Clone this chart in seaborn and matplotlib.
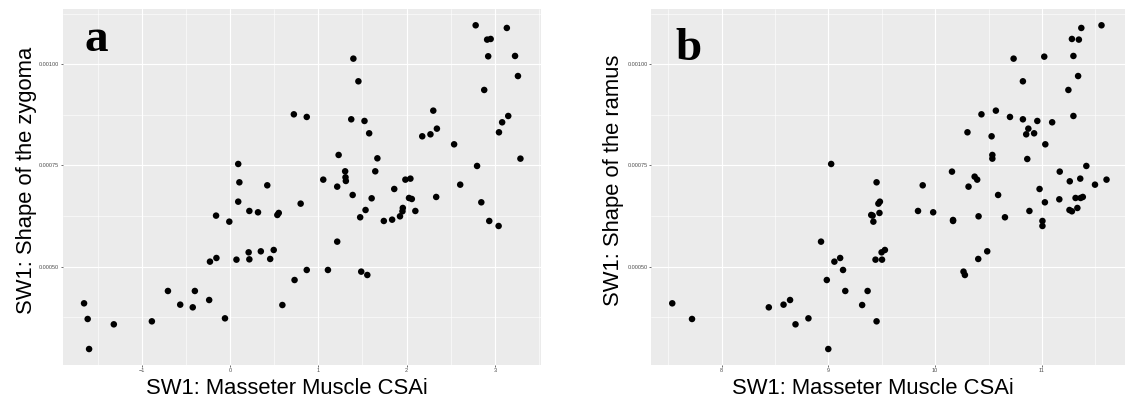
import pandas as pd
import seaborn as sns
import matplotlib.pyplot as plt
from matplotlib.ticker import MultipleLocator, FormatStrFormatter

# panel a: masseter CSAi vs zygoma shape
csa_a = [-1.653, -1.612, -1.596, -1.316, -0.885, -0.703, -0.564, -0.422,
         -0.398, -0.236, -0.227, -0.158, -0.154, -0.057, -0.008, 0.073,
         0.093, 0.106, 0.093, 0.219, 0.211, 0.219, 0.317, 0.349, 0.422,
         0.455, 0.495, 0.536, 0.552, 0.593, 0.723, 0.731, 0.800, 0.869,
         0.869, 1.056, 1.109, 1.214, 1.214, 1.230, 1.304, 1.308, 1.312,
         1.373, 1.389, 1.397, 1.454, 1.474, 1.486, 1.523, 1.535, 1.555,
         1.576, 1.604, 1.645, 1.669, 1.742, 1.836, 1.860, 1.925, 1.953,
         1.957, 1.986, 2.027, 2.043, 2.059, 2.099, 2.177, 2.270, 2.302,
         2.335, 2.343, 2.538, 2.607, 2.782, 2.798, 2.846, 2.879, 2.912,
         2.924, 2.936, 2.952, 3.042, 3.046, 3.082, 3.135, 3.151, 3.228,
         3.261, 3.289]
zygoma = [0.0004094, 0.0003707, 0.0002965, 0.0003575, 0.0003649, 0.0004399,
          0.0004061, 0.0003995, 0.0004399, 0.0004176, 0.0005124, 0.0006261,
          0.0005214, 0.0003723, 0.0006112, 0.0005173, 0.0007537, 0.0007084,
          0.0006606, 0.0006376, 0.0005354, 0.0005181, 0.0006343, 0.0005379,
          0.0007010, 0.0005190, 0.0005412, 0.0006277, 0.0006327, 0.0004052,
          0.0008764, 0.0004670, 0.0006557, 0.0008699, 0.0004918, 0.0007150,
          0.0004918, 0.0006977, 0.0005618, 0.0007760, 0.0007356, 0.0007208,
          0.0007117, 0.0008641, 0.0006771, 0.0010140, 0.0009580, 0.0006220,
          0.0004877, 0.0008600, 0.0006400, 0.0004794, 0.0008295, 0.0006689,
          0.0007356, 0.0007677, 0.0006129, 0.0006161, 0.0006919, 0.0006244,
          0.0006368, 0.0006450, 0.0007150, 0.0006697, 0.0007175, 0.0006672,
          0.0006376, 0.0008221, 0.0008270, 0.0008855, 0.0006722, 0.0008410,
          0.0008023, 0.0007026, 0.0010964, 0.0007488, 0.0006590, 0.0009366,
          0.0010610, 0.0010198, 0.0006129, 0.0010626, 0.0006005, 0.0008320,
          0.0008567, 0.0010898, 0.0008723, 0.0010206, 0.0009710, 0.0007669]

# panel b: masseter CSAi vs ramus shape
csa_b = [7.538, 7.723, 8.442, 8.580, 8.641, 8.692, 8.813, 8.931, 8.985,
         8.999, 9.026, 9.056, 9.110, 9.137, 9.158, 9.316, 9.367, 9.401,
         9.414, 9.421, 9.441, 9.451, 9.451, 9.468, 9.482, 9.478, 9.498,
         9.502, 9.529, 9.839, 9.883, 9.981, 10.157, 10.167, 10.167, 10.265,
         10.278, 10.302, 10.312, 10.369, 10.393, 10.403, 10.406, 10.433,
         10.487, 10.528, 10.535, 10.535, 10.568, 10.589, 10.653, 10.700,
         10.734, 10.821, 10.821, 10.852, 10.862, 10.872, 10.882, 10.926,
         10.956, 10.977, 11.004, 11.004, 11.021, 11.027, 11.031, 11.095,
         11.162, 11.166, 11.247, 11.257, 11.260, 11.280, 11.280, 11.294,
         11.294, 11.314, 11.331, 11.345, 11.338, 11.358, 11.361, 11.368,
         11.382, 11.415, 11.496, 11.557, 11.604]
ramus = [0.0004094, 0.0003707, 0.0003995, 0.0004061, 0.0004176, 0.0003575,
         0.0003723, 0.0005618, 0.0004670, 0.0002965, 0.0007537, 0.0005124,
         0.0005214, 0.0004918, 0.0004399, 0.0004052, 0.0004399, 0.0006277,
         0.0006261, 0.0006112, 0.0005173, 0.0007084, 0.0003649, 0.0006557,
         0.0006606, 0.0006327, 0.0005354, 0.0005173, 0.0005412, 0.0006376,
         0.0007010, 0.0006343, 0.0007348, 0.0006153, 0.0006129, 0.0004877,
         0.0004794, 0.0008320, 0.0006977, 0.0007224, 0.0007150, 0.0005190,
         0.0006244, 0.0008764, 0.0005379, 0.0008221, 0.0007760, 0.0007669,
         0.0008855, 0.0006771, 0.0006220, 0.0008699, 0.0010140, 0.0009580,
         0.0008641, 0.0008270, 0.0007660, 0.0008410, 0.0006376, 0.0008295,
         0.0008600, 0.0006919, 0.0006129, 0.0006005, 0.0010189, 0.0006590,
         0.0008023, 0.0008567, 0.0006664, 0.0007348, 0.0009366, 0.0006400,
         0.0007109, 0.0010626, 0.0006368, 0.0008723, 0.0010206, 0.0006697,
         0.0006450, 0.0010610, 0.0009710, 0.0007175, 0.0006697, 0.0010898,
         0.0006722, 0.0007488, 0.0007026, 0.0010964, 0.0007150]

xlabel = 'SW1: Masseter Muscle CSAi'
sns.set_style('darkgrid', {'axes.facecolor': '#EBEBEB',
                           'grid.color': 'white'})
plt.rcParams['font.family'] = ['Liberation Sans', 'DejaVu Sans']

fig = plt.figure(figsize=(11.25, 3.98), dpi=100)
W, H = 1125, 398
ax_a = fig.add_axes([62.6 / W, 33 / H, 478.4 / W, 355.7 / H])
ax_b = fig.add_axes([651 / W, 33 / H, 474 / W, 355.7 / H])

panels = [
    (ax_a, pd.DataFrame({'x': csa_a, 'y': zygoma}),
     'SW1: Shape of the zygoma', 'a', (-1.896, 3.522), -0.063,
     (0.046, 0.882)),
    (ax_b, pd.DataFrame({'x': csa_b, 'y': ramus}),
     'SW1: Shape of the ramus', 'b', (7.339, 11.777), -0.068,
     (0.052, 0.858)),
]

for ax, df, ylabel, letter, xlim, ylab_x, let_pos in panels:
    sns.scatterplot(data=df, x='x', y='y', ax=ax, color='black',
                    s=22, edgecolor='none', linewidth=0)
    ax.set_xlim(*xlim)
    ax.set_ylim(0.000257, 0.0011359)
    ax.xaxis.set_major_locator(MultipleLocator(1))
    ax.xaxis.set_minor_locator(MultipleLocator(0.5))
    ax.yaxis.set_major_locator(MultipleLocator(0.00025))
    ax.yaxis.set_minor_locator(MultipleLocator(0.000125))
    ax.yaxis.set_major_formatter(FormatStrFormatter('%.5f'))
    ax.grid(which='major', color='white', linewidth=0.8)
    ax.grid(which='minor', color='white', linewidth=0.4)
    ax.tick_params(which='major', bottom=True, left=True, length=1.5,
                   width=0.5, color='#333333', labelsize=4,
                   labelcolor='#4D4D4D', pad=1)
    ax.tick_params(which='minor', length=0)
    for sp in ax.spines.values():
        sp.set_visible(False)
    ax.set_xlabel(xlabel, fontsize=15.8, va='baseline', color='black')
    ax.xaxis.set_label_coords(0.469, -0.0824)
    ax.set_ylabel(ylabel, fontsize=15.8, va='baseline', color='black')
    ax.yaxis.set_label_coords(ylab_x, 0.52)
    ax.text(let_pos[0], let_pos[1], letter, transform=ax.transAxes,
            fontsize=34, fontweight='bold', family='Liberation Serif',
            va='baseline', color='black')

fig.savefig('out.png', dpi=100)
